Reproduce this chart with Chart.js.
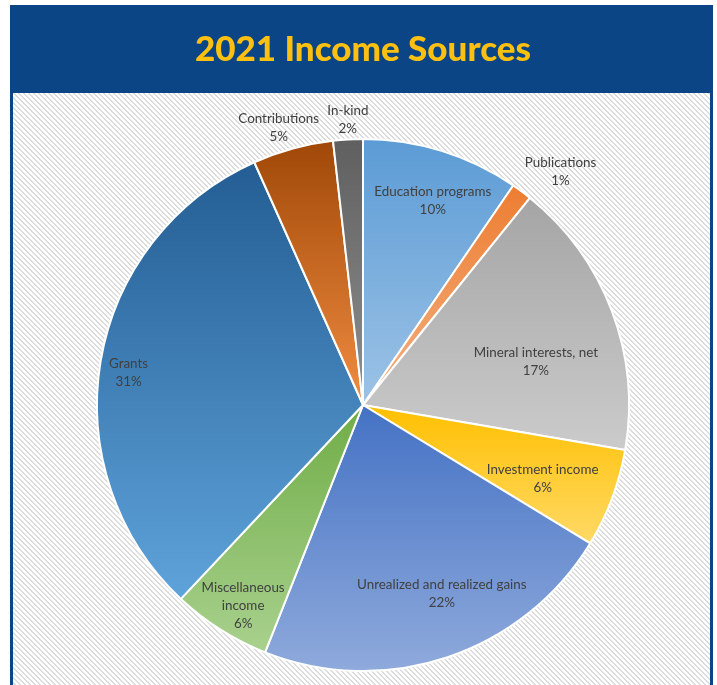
<!DOCTYPE html>
<html>
<head>
<meta charset="utf-8">
<script src="https://cdn.jsdelivr.net/npm/chart.js@4.4.0/dist/chart.umd.min.js"></script>
<style>
  html, body { margin: 0; padding: 0; background: #ffffff; }
  #wrap { position: relative; width: 717px; height: 685px; }
  canvas { display: block; }
</style>
</head>
<body>
<div id="wrap"><canvas id="c" width="717" height="685"></canvas></div>
<script>
// ---- data ----
const categories = ['Education programs', 'Publications', 'Mineral interests, net', 'Investment income',
  'Unrealized and realized gains', 'Miscellaneous income', 'Grants', 'Contributions', 'In-kind'];
const shares = [9.55, 1.25, 16.9, 6.0, 22.3, 6.0, 31.3, 4.9, 1.8];
const chartTitle = '2021 Income Sources';

// ---- styles ----
const gradTop =    ['#5b9bd5', '#ed7d31', '#a5a5a5', '#ffc000', '#4472c4', '#70ad47', '#235d93', '#a04808', '#5f5f5f'];
const gradBottom = ['#9dc3e6', '#f4b183', '#cbcbcb', '#ffd966', '#8faadc', '#a9d18e', '#5ea3da', '#f08c40', '#8f8f8f'];
const labelRadius = [0.81, 1.15, 0.67, 0.73, 0.77, 0.88, 0.89, 1.09, 1.075];
const labelAngleTweak = [1.7, 3.6, 6.7, 1.8, -4.1, -1.6, -1.6, -1.6, 0.2];
const labelWrap = [false, false, false, false, false, true, false, false, false];

function sliceGradient(ctx) {
  const chart = ctx.chart;
  const ca = chart.chartArea;
  const i = ctx.dataIndex;
  if (!ca || i === undefined) return gradTop[i] || '#999';
  const cx = (ca.left + ca.right) / 2, cy = (ca.top + ca.bottom) / 2;
  const r = Math.min(ca.right - ca.left, ca.bottom - ca.top) / 2;
  const total = shares.reduce((a, b) => a + b, 0);
  let cum = 0;
  for (let k = 0; k < i; k++) cum += shares[k];
  const a0 = -Math.PI / 2 + cum / total * 2 * Math.PI;
  const a1 = a0 + shares[i] / total * 2 * Math.PI;
  const ys = [cy, cy + r * Math.sin(a0), cy + r * Math.sin(a1)];
  for (let t = -Math.PI / 2; t <= 2 * Math.PI; t += Math.PI) {
    if (t >= a0 && t <= a1) ys.push(cy + r * Math.sin(t));
  }
  const y0 = Math.min(...ys), y1 = Math.max(...ys);
  const g = chart.ctx.createLinearGradient(0, y0, 0, y1);
  g.addColorStop(0, gradTop[i]);
  g.addColorStop(1, gradBottom[i]);
  return g;
}

function makeHatch() {
  const n = 5;
  const c = document.createElement('canvas');
  c.width = n; c.height = n;
  const x = c.getContext('2d');
  const img = x.createImageData(n, n);
  for (let py = 0; py < n; py++) for (let px = 0; px < n; px++) {
    const on = ((px - py) % n + n) % n < 2;
    const idx = (py * n + px) * 4;
    const v = on ? 220 : 255;
    img.data[idx] = v; img.data[idx + 1] = v; img.data[idx + 2] = v; img.data[idx + 3] = 255;
  }
  x.putImageData(img, 0, 0);
  return c;
}
const hatchTile = makeHatch();

const framePlugin = {
  id: 'frame',
  beforeDraw(chart) {
    const ctx = chart.ctx;
    const W = chart.width, H = chart.height;
    ctx.save();
    ctx.fillStyle = '#ffffff';
    ctx.fillRect(0, 0, W, H);
    ctx.fillStyle = '#0b4586';
    ctx.fillRect(10, 5, 703, H - 5);
    ctx.fillStyle = ctx.createPattern(hatchTile, 'repeat');
    ctx.fillRect(13, 93, 697, H - 93);
    ctx.restore();
  }
};

const labelPlugin = {
  id: 'sliceLabels',
  afterDatasetsDraw(chart) {
    const ctx = chart.ctx;
    const meta = chart.getDatasetMeta(0);
    const total = shares.reduce((a, b) => a + b, 0);
    ctx.save();
    ctx.font = '13.4px Lato';
    ctx.fillStyle = '#404040';
    ctx.textAlign = 'center';
    ctx.textBaseline = 'middle';
    const lh = 18;
    meta.data.forEach((arc, i) => {
      const p = arc.getProps(['x', 'y', 'startAngle', 'endAngle', 'outerRadius'], true);
      const mid = (p.startAngle + p.endAngle) / 2 + labelAngleTweak[i] * Math.PI / 180;
      const rr = p.outerRadius * labelRadius[i];
      const lx = p.x + Math.cos(mid) * rr;
      const ly = p.y + Math.sin(mid) * rr;
      const lines = labelWrap[i] ? categories[i].split(' ') : [categories[i]];
      lines.push(Math.round(shares[i] / total * 100) + '%');
      const top = ly - (lines.length - 1) * lh / 2;
      lines.forEach((t, k) => ctx.fillText(t, lx, top + k * lh));
    });
    ctx.restore();
  }
};

new Chart(document.getElementById('c'), {
  type: 'pie',
  data: {
    labels: categories,
    datasets: [{
      data: shares,
      backgroundColor: sliceGradient,
      borderColor: '#ffffff',
      borderWidth: 2,
      hoverOffset: 0
    }]
  },
  options: {
    responsive: false,
    animation: false,
    layout: { padding: { left: 9, right: 0, top: 0, bottom: 13 } },
    plugins: {
      legend: { display: false },
      tooltip: { enabled: false },
      title: {
        display: true,
        text: chartTitle,
        color: '#fdc010',
        font: { family: 'Lato', size: 35, weight: '900', lineHeight: 1.2 },
        padding: { top: 29, bottom: 67 }
      }
    }
  },
  plugins: [framePlugin, labelPlugin]
});
</script>
</body>
</html>
